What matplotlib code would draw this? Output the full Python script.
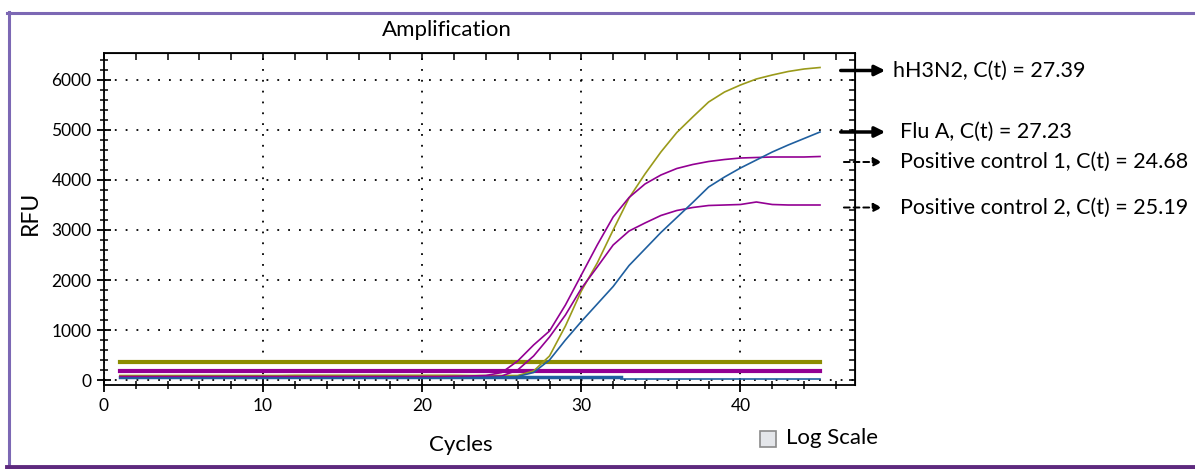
import numpy as np
import matplotlib
matplotlib.use("Agg")
import matplotlib.pyplot as plt
from matplotlib.patches import Rectangle
from matplotlib.lines import Line2D

plt.rcParams['font.family'] = ['Lato', 'DejaVu Sans']

# Datos: ciclos y curvas de amplificación (RFU)
cycles = list(range(1, 46))

h3n2 = [90, 90, 90, 90, 90, 90, 90, 90, 90, 90, 90, 95, 95, 95, 95, 95, 95, 95, 95, 95,
        95, 95, 90, 90, 90, 90, 180, 480, 1080, 1780, 2340, 3000, 3640, 4120, 4560, 4950,
        5260, 5560, 5760, 5900, 6020, 6100, 6170, 6220, 6250]
flu_a = [40, 40, 40, 40, 40, 40, 40, 40, 40, 40, 40, 40, 40, 40, 40, 40, 40, 40, 40, 40,
         40, 45, 50, 55, 60, 70, 150, 400, 800, 1170, 1520, 1870, 2290, 2620, 2950, 3250,
         3550, 3860, 4060, 4240, 4400, 4560, 4700, 4830, 4960]
pc1 = [70, 70, 70, 70, 70, 70, 70, 70, 70, 70, 70, 70, 70, 70, 70, 70, 70, 70, 70, 70,
       70, 75, 80, 90, 150, 380, 700, 980, 1500, 2100, 2700, 3260, 3650, 3920, 4100, 4230,
       4310, 4370, 4410, 4440, 4450, 4460, 4460, 4460, 4470]
pc2 = [60, 60, 60, 60, 60, 60, 60, 60, 60, 60, 60, 60, 60, 60, 60, 60, 60, 60, 60, 60,
       60, 60, 65, 70, 80, 200, 480, 860, 1300, 1830, 2260, 2700, 2980, 3140, 3290, 3390,
       3450, 3490, 3500, 3510, 3560, 3510, 3500, 3500, 3500]

# Umbrales (líneas horizontales gruesas)
thr_h3n2 = 360
thr_pc = 180
thr_flu = 55

labels = ["hH3N2, C(t) = 27.39", "Flu A, C(t) = 27.23",
          "Positive control 1, C(t) = 24.68", "Positive control 2, C(t) = 25.19"]

olive = '#8c8c00'
magenta = '#930093'
blue = '#1f5f9f'

fig = plt.figure(figsize=(11.95, 4.69), dpi=100)
ax = fig.add_axes([0.0870, 0.1791, 0.6285, 0.7079])

# Umbrales
ax.plot([1, 45], [thr_h3n2, thr_h3n2], color=olive, lw=3)
ax.plot([1, 45], [thr_pc, thr_pc], color=magenta, lw=3)
ax.plot([1, 32.5], [thr_flu, thr_flu], color=blue, lw=2.5)
ax.plot([32.5, 45], [25, 25], color=blue, lw=1.2)

# Curvas
ax.plot(cycles, h3n2, color='#9a9a1a', lw=1.2)
ax.plot(cycles, pc1, color=magenta, lw=1.2)
ax.plot(cycles, pc2, color=magenta, lw=1.2)
ax.plot(cycles, flu_a, color=blue, lw=1.2)

ax.set_xlim(0, 47.2)
ax.set_ylim(-100, 6540)
ax.set_xticks([0, 10, 20, 30, 40])
ax.set_xticks(np.arange(0, 47, 2), minor=True)
ax.set_yticks([0, 1000, 2000, 3000, 4000, 5000, 6000])
ax.set_yticks(np.arange(0, 6540, 200), minor=True)
ax.tick_params(which='major', direction='inout', length=10, width=1.3, labelsize=12.5, pad=4)
ax.tick_params(which='minor', direction='inout', length=6, width=1.1)
ax.grid(True, which='major', color='black', linestyle=(0, (1, 5)), lw=1.3)
for s in ax.spines.values():
    s.set_linewidth(1.3)

top = ax.secondary_xaxis('top')
top.set_xticks(np.arange(0, 47, 2))
top.tick_params(direction='in', length=5, width=1.1, labelsize=0)
top.set_xticklabels([])
right = ax.secondary_yaxis('right')
right.set_yticks(np.arange(0, 6540, 200))
right.tick_params(direction='in', length=4, width=1.1)
right.set_yticklabels([])

fig.text(447 / 1195, 1 - 30 / 469, "Amplification", fontsize=16, ha='center', va='center')
ax.set_xlabel("Cycles", fontsize=16)
ax.xaxis.set_label_coords(0.475, -0.15)
ax.set_ylabel("RFU", fontsize=16.5)
ax.yaxis.set_label_coords(-0.084, 0.518)

# Flechas y etiquetas a la derecha
finals = [h3n2[-1] - 60, flu_a[-1], pc1[-1] - 110, pc2[-1] - 50]
styles = ['solid', 'solid', 'dashed', 'dashed']
text_x = [49.6, 50.0, 50.0, 50.0]
for y, lab, st, tx in zip(finals, labels, styles, text_x):
    if st == 'solid':
        ax.annotate('', xy=(49.1, y), xytext=(46.3, y), xycoords='data',
                    arrowprops=dict(arrowstyle='-|>', color='black', lw=2.5,
                                    mutation_scale=15, shrinkA=0, shrinkB=0),
                    annotation_clip=False)
    else:
        ax.annotate('', xy=(48.9, y), xytext=(46.5, y), xycoords='data',
                    arrowprops=dict(arrowstyle='-|>', color='black', lw=1.4,
                                    linestyle=(0, (3, 2)), mutation_scale=13,
                                    shrinkA=0, shrinkB=0),
                    annotation_clip=False)
    ax.text(tx, y, lab, fontsize=15.5, va='center', ha='left', clip_on=False)

# Casilla "Log Scale"
fig.patches.append(Rectangle((760 / 1195, 1 - 447 / 469), 16 / 1195, 16 / 469,
                             transform=fig.transFigure, facecolor='#e4e6ea',
                             edgecolor='#8a8a8a', lw=1.2))
fig.text(786 / 1195, 1 - 438 / 469, "Log Scale", fontsize=16, va='center', ha='left')

# Marco morado
fig.add_artist(Line2D([8.5 / 1195, 8.5 / 1195], [1 - 12 / 469, 1 - 466 / 469],
                      transform=fig.transFigure, color='#7c68b4', lw=2.2))
fig.add_artist(Line2D([7 / 1195, 1], [1 - 12.8 / 469, 1 - 12.8 / 469],
                      transform=fig.transFigure, color='#7c68b4', lw=2.2))
fig.add_artist(Line2D([7 / 1195, 1], [1 - 467 / 469, 1 - 467 / 469],
                      transform=fig.transFigure, color='#5e2a7e', lw=3.5))

fig.savefig("out.png", dpi=100)
